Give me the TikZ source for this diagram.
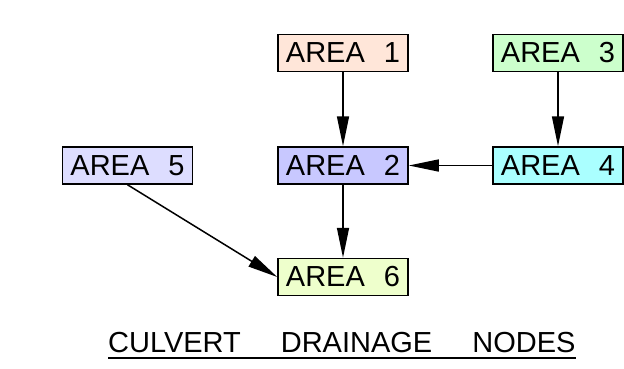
\documentclass[tikz,border=0pt]{standalone}
\usepackage{fontspec}
\setmainfont{Liberation Sans}
\usetikzlibrary{arrows.meta}
\definecolor{cA}{HTML}{FFE6D9}
\definecolor{cB}{HTML}{C8C8FF}
\definecolor{cC}{HTML}{CCFFCC}
\definecolor{cD}{HTML}{AAFFFF}
\definecolor{cE}{HTML}{DDDDFF}
\definecolor{cF}{HTML}{EEFFCC}
\tikzset{
  areabox/.style={draw=black, line width=1.5pt, minimum width=130pt, minimum height=37pt,
    inner sep=0pt, font=\fontsize{29}{29}\selectfont},
  flow/.style={draw=black, line width=1.5pt, -{Triangle[length=30pt,width=12pt]}}
}
\newcommand{\areatxt}[1]{AREA\hspace{19pt}#1}
\begin{document}
\begin{tikzpicture}[x=1pt,y=-1pt]
\useasboundingbox (0,0) rectangle (624,368);
\node[areabox, fill=cA] (a1) at (343,53) {\areatxt{1}};
\node[areabox, fill=cC] (a3) at (558,53) {\areatxt{3}};
\node[areabox, fill=cB] (a2) at (343,165.5) {\areatxt{2}};
\node[areabox, fill=cD] (a4) at (558,165.5) {\areatxt{4}};
\node[areabox, fill=cE] (a5) at (127.5,165.5) {\areatxt{5}};
\node[areabox, fill=cF] (a6) at (343,277) {\areatxt{6}};
\draw[flow] (a1.south) -- (a2.north);
\draw[flow] (a3.south) -- (a4.north);
\draw[flow] (a4.west) -- (a2.east);
\draw[flow] (a2.south) -- (a6.north);
\draw[flow] (a5.south) -- (a6.west);
\node[anchor=base west, inner sep=0pt, font=\fontsize{29}{29}\selectfont] (title) at (108,352)
  {CULVERT\hspace{40pt}DRAINAGE\hspace{40pt}NODES};
\draw[line width=1.5pt] ([yshift=-6pt]title.base west) -- ([yshift=-6pt]title.base east);
\end{tikzpicture}
\end{document}
